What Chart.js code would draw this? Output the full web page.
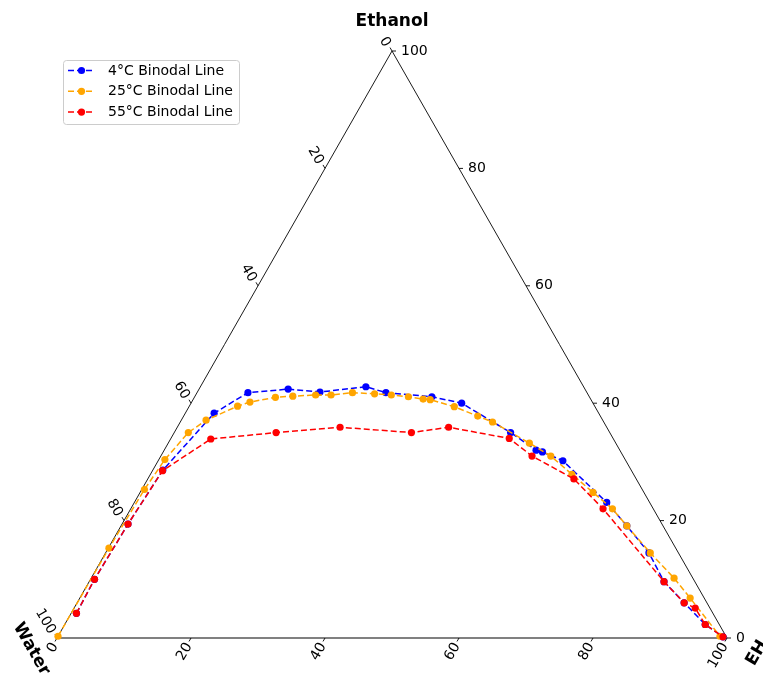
<!DOCTYPE html>
<html>
<head>
<meta charset="utf-8">
<script src="https://cdn.jsdelivr.net/npm/chart.js@4"></script>
<style>
  html, body { margin: 0; padding: 0; background: #ffffff; }
  #wrap { width: 763px; height: 675px; position: relative; }
</style>
</head>
<body>
<div id="wrap"><canvas id="chart"></canvas></div>
<script>
// Binodal curves of the Water / Ethanol / EH system (mass %), Water = 100 - Ethanol - EH
const seriesNames  = ['4°C Binodal Line', '25°C Binodal Line', '55°C Binodal Line'];
const seriesColors = ['#0000ff', '#ffa500', '#ff0000'];

const ethanol4C = [4.2, 10.0, 19.4, 28.6, 38.3, 41.8, 42.4, 41.9, 42.8, 41.8, 41.1, 40.0, 35.0, 32.0, 31.7, 30.2, 23.1, 19.1, 14.5, 9.6, 6.0, 2.3, 0.2];
const eh4C      = [0.8, 0.6, 0.9, 1.5, 4.3, 7.6, 13.3, 18.3, 24.7, 28.2, 35.4, 40.4, 50.2, 55.5, 56.6, 60.4, 70.5, 75.5, 81.1, 85.8, 90.6, 95.6, 99.3];

const ethanol25C = [0.3, 15.3, 25.3, 30.4, 35.0, 37.1, 39.5, 40.2, 41.0, 41.2, 41.4, 41.4, 41.8, 41.6, 41.4, 41.1, 40.7, 40.6, 39.4, 37.8, 36.8, 33.2, 31.0, 27.9, 24.8, 22.0, 19.1, 14.5, 10.2, 6.8, 0.3];
const eh25C      = [0.0, 0.1, 0.4, 0.9, 2.1, 3.7, 7.2, 8.7, 12.1, 14.6, 17.9, 20.2, 23.2, 26.6, 29.2, 31.9, 34.3, 35.4, 39.6, 43.9, 46.6, 53.9, 58.2, 62.9, 67.6, 71.9, 75.5, 81.3, 87.0, 91.1, 98.8];

const ethanol55C = [4.2, 10.0, 19.4, 28.5, 33.9, 35.0, 35.9, 35.0, 35.9, 34.0, 31.0, 27.1, 22.0, 9.6, 6.0, 5.1, 2.3, 0.2];
const eh55C      = [0.8, 0.6, 0.9, 1.5, 6.0, 15.2, 24.3, 35.4, 40.5, 50.5, 55.4, 63.6, 70.5, 85.8, 90.6, 92.7, 95.6, 99.3];

const tickValues = [0, 20, 40, 60, 80, 100];
const cornerTitles = { top: 'Ethanol', left: 'Water', right: 'EH' };

const FONT = '"DejaVu Sans", "Liberation Sans", sans-serif';
const S3 = Math.sqrt(3) / 2;

// ternary (ethanol, EH) -> plane: x runs Water -> EH corner, y is the ethanol height
function toPlane(eth, eh) {
  return eth.map((e, i) => ({ x: eh[i] + e / 2, y: e }));
}

function makeSet(label, color, eth, eh, order) {
  return {
    label,
    data: toPlane(eth, eh),
    showLine: true,
    borderColor: color,
    backgroundColor: color,
    borderWidth: 1.5,
    borderDash: [6, 3],
    pointRadius: 3.6,
    pointBorderWidth: 0,
    pointHoverRadius: 3.6,
    tension: 0,
    clip: false,
    order
  };
}

// triangle frame, ticks, tick labels and corner titles
const ternaryFrame = {
  id: 'ternaryFrame',
  beforeDatasetsDraw(chart) {
    const ctx = chart.ctx;
    const xs = chart.scales.x, ys = chart.scales.y;
    const P = (x, y) => [xs.getPixelForValue(x), ys.getPixelForValue(y)];
    const A = P(0, 0), B = P(100, 0), C = P(50, 100);
    ctx.save();

    // left and right edges
    ctx.strokeStyle = '#000000';
    ctx.lineWidth = 0.9;
    ctx.beginPath();
    ctx.moveTo(A[0], A[1]); ctx.lineTo(C[0], C[1]); ctx.lineTo(B[0], B[1]);
    ctx.stroke();
    // bottom edge
    ctx.strokeStyle = '#808080';
    ctx.lineWidth = 2.2;
    ctx.beginPath();
    ctx.moveTo(A[0], A[1]); ctx.lineTo(B[0], B[1]);
    ctx.stroke();

    ctx.font = '14px ' + FONT;
    ctx.fillStyle = '#000000';
    ctx.strokeStyle = '#000000';
    ctx.lineWidth = 0.9;
    const tl = 4;

    tickValues.forEach(v => {
      // Ethanol scale on the right edge
      let p = P(100 - v / 2, v);
      ctx.beginPath(); ctx.moveTo(p[0], p[1]); ctx.lineTo(p[0] + tl, p[1]); ctx.stroke();
      ctx.textAlign = 'left'; ctx.textBaseline = 'middle';
      ctx.fillText(String(v), p[0] + 9, p[1]);

      // Water scale on the left edge
      p = P((100 - v) / 2, 100 - v);
      ctx.beginPath(); ctx.moveTo(p[0], p[1]); ctx.lineTo(p[0] - tl * 0.5, p[1] - tl * S3); ctx.stroke();
      ctx.save();
      ctx.translate(p[0] - 5, p[1] - 5);
      ctx.rotate(Math.PI / 3);
      ctx.textAlign = 'right'; ctx.textBaseline = 'middle';
      ctx.fillText(String(v), 0, 0);
      ctx.restore();

      // EH scale on the bottom edge
      p = P(v, 0);
      ctx.beginPath(); ctx.moveTo(p[0], p[1]); ctx.lineTo(p[0] - tl * 0.5, p[1] + tl * S3); ctx.stroke();
      ctx.save();
      ctx.translate(p[0] - 2, p[1] + 6);
      ctx.rotate(-Math.PI / 3);
      ctx.textAlign = 'right'; ctx.textBaseline = 'middle';
      ctx.fillText(String(v), 0, 0);
      ctx.restore();
    });

    // corner titles
    ctx.font = 'bold 17px ' + FONT;
    ctx.textAlign = 'center'; ctx.textBaseline = 'middle';
    ctx.fillText(cornerTitles.top, C[0], C[1] - 29);

    ctx.save();
    ctx.translate(A[0] - 40, A[1] - 14);
    ctx.rotate(Math.PI / 3);
    ctx.textAlign = 'left'; ctx.textBaseline = 'middle';
    ctx.fillText(cornerTitles.left, 0, 0);
    ctx.restore();

    ctx.save();
    ctx.translate(B[0] + 30, B[1] + 15);
    ctx.rotate(-Math.PI / 3);
    ctx.textAlign = 'center'; ctx.textBaseline = 'middle';
    ctx.fillText(cornerTitles.right, 0, 0);
    ctx.restore();

    ctx.restore();
  }
};

// boxed legend in the upper-left corner
const boxLegend = {
  id: 'boxLegend',
  afterDatasetsDraw(chart) {
    const ctx = chart.ctx;
    const x0 = 63.5, y0 = 60.5, w = 176, h = 64, r = 3;
    ctx.save();
    ctx.fillStyle = 'rgba(255,255,255,0.8)';
    ctx.strokeStyle = '#cccccc';
    ctx.lineWidth = 1;
    ctx.beginPath();
    ctx.roundRect(x0, y0, w, h, r);
    ctx.fill();
    ctx.stroke();

    ctx.font = '14px ' + FONT;
    ctx.textAlign = 'left';
    ctx.textBaseline = 'middle';
    seriesNames.forEach((name, i) => {
      const y = 70.5 + i * 20.8;
      ctx.strokeStyle = seriesColors[i];
      ctx.lineWidth = 1.5;
      ctx.setLineDash([6, 3]);
      ctx.beginPath(); ctx.moveTo(68, y); ctx.lineTo(95, y); ctx.stroke();
      ctx.setLineDash([]);
      ctx.fillStyle = seriesColors[i];
      ctx.beginPath(); ctx.arc(81.5, y, 3.6, 0, Math.PI * 2); ctx.fill();
      ctx.fillStyle = '#000000';
      ctx.fillText(name, 108, y + 0.5);
    });
    ctx.restore();
  }
};

new Chart(document.getElementById('chart'), {
  type: 'scatter',
  data: {
    datasets: [
      makeSet(seriesNames[0], seriesColors[0], ethanol4C, eh4C, 3),
      makeSet(seriesNames[1], seriesColors[1], ethanol25C, eh25C, 2),
      makeSet(seriesNames[2], seriesColors[2], ethanol55C, eh55C, 1)
    ]
  },
  options: {
    responsive: true,
    maintainAspectRatio: false,
    animation: false,
    layout: { padding: { left: 57, right: 36, top: 51, bottom: 37 } },
    scales: {
      x: { type: 'linear', min: 0, max: 100, display: false },
      y: { type: 'linear', min: 0, max: 100, display: false }
    },
    plugins: {
      legend: { display: false },
      tooltip: { enabled: false }
    }
  },
  plugins: [ternaryFrame, boxLegend]
});
</script>
</body>
</html>
